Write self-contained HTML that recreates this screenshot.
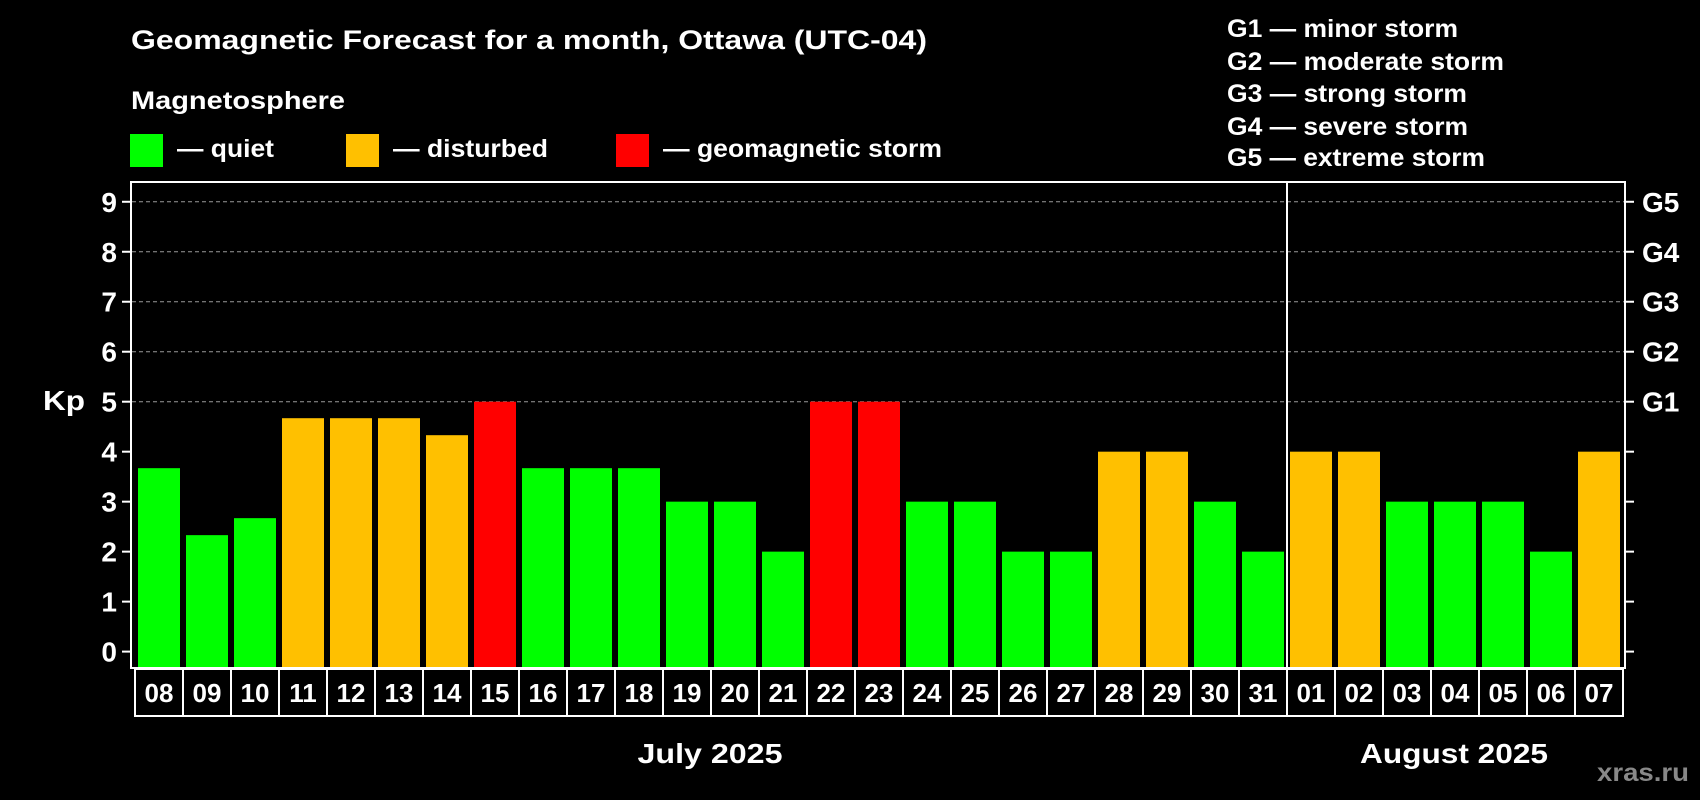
<!DOCTYPE html>
<html><head><meta charset="utf-8"><style>
html,body{margin:0;padding:0;background:#000;width:1700px;height:800px;overflow:hidden}
svg{display:block}
text{font-family:"Liberation Sans",Arial,sans-serif;font-weight:bold;fill:#fff}
</style></head><body>
<svg id="chart" width="1700" height="800" xmlns="http://www.w3.org/2000/svg">
<text x="131" y="49" font-size="27" textLength="796" lengthAdjust="spacingAndGlyphs">Geomagnetic Forecast for a month, Ottawa (UTC-04)</text>
<text x="131" y="109" font-size="25" textLength="214" lengthAdjust="spacingAndGlyphs">Magnetosphere</text>
<rect x="130" y="134" width="33" height="33" fill="#00ff00"/>
<text x="177" y="157" font-size="25" textLength="97" lengthAdjust="spacingAndGlyphs">— quiet</text>
<rect x="346" y="134" width="33" height="33" fill="#ffc000"/>
<text x="393" y="157" font-size="25" textLength="155" lengthAdjust="spacingAndGlyphs">— disturbed</text>
<rect x="616" y="134" width="33" height="33" fill="#ff0000"/>
<text x="663" y="157" font-size="25" textLength="279" lengthAdjust="spacingAndGlyphs">— geomagnetic storm</text>
<g font-size="25">
<text x="1227" y="37" textLength="231" lengthAdjust="spacingAndGlyphs">G1 — minor storm</text>
<text x="1227" y="70" textLength="277" lengthAdjust="spacingAndGlyphs">G2 — moderate storm</text>
<text x="1227" y="102" textLength="240" lengthAdjust="spacingAndGlyphs">G3 — strong storm</text>
<text x="1227" y="135" textLength="241" lengthAdjust="spacingAndGlyphs">G4 — severe storm</text>
<text x="1227" y="166" textLength="258" lengthAdjust="spacingAndGlyphs">G5 — extreme storm</text>
</g>
<text x="43" y="410" font-size="28" textLength="42" lengthAdjust="spacingAndGlyphs">Kp</text>
<g id="grid"></g>
<g id="bars"></g>
<rect x="131" y="182" width="1494" height="486" fill="none" stroke="#fff" stroke-width="2"/>
<g id="axes"></g>
<text x="710" y="763" font-size="28" text-anchor="middle" textLength="145" lengthAdjust="spacingAndGlyphs">July 2025</text>
<text x="1454" y="763" font-size="28" text-anchor="middle" textLength="188" lengthAdjust="spacingAndGlyphs">August 2025</text>
<text x="1689" y="781" font-size="25" text-anchor="end" textLength="92" lengthAdjust="spacingAndGlyphs" style="fill:#888">xras.ru</text>
</svg>
<script>
const days = ["08","09","10","11","12","13","14","15","16","17","18","19","20","21","22","23","24","25","26","27","28","29","30","31","01","02","03","04","05","06","07"];
const kpValues = [3.67,2.33,2.67,4.67,4.67,4.67,4.33,5,3.67,3.67,3.67,3,3,2,5,5,3,3,2,2,4,4,3,2,4,4,3,3,3,2,4];
const yTicks = [0,1,2,3,4,5,6,7,8,9];
const gLabels = ["G1","G2","G3","G4","G5"];
const gLevels = [5,6,7,8,9];
const monthSplitIndex = 24;

const NS = "http://www.w3.org/2000/svg";
const y0 = 651.6, unit = 49.98, x0 = 138, pitch = 48, bw = 42, base = 667;
const yScale = v => y0 - v * unit;
const xScale = i => x0 + i * pitch;
function mk(tag, attrs, parent){const e=document.createElementNS(NS,tag);for(const k in attrs)e.setAttribute(k,attrs[k]);parent.appendChild(e);return e;}
const grid=document.getElementById('grid'), bars=document.getElementById('bars'), axes=document.getElementById('axes');
const color = v => v >= 5 ? "#ff0000" : (v >= 4 ? "#ffc000" : "#00ff00");

yTicks.forEach(t=>{
  const y=yScale(t);
  if(t>=5){const l=mk('line',{x1:132,x2:1624,y1:y,y2:y,stroke:'#999','stroke-width':1,'stroke-dasharray':'4 3'},grid);
  
  }
  const tk=mk('line',{x1:122,x2:131,y1:y,y2:y,stroke:'#fff','stroke-width':2},axes);
  
  
  const rt=mk('line',{x1:1625,x2:1634,y1:y,y2:y,stroke:'#fff','stroke-width':2},axes);
  
  
  const tx=mk('text',{x:117,y:y+10,'font-size':28,'text-anchor':'end'},axes);
  tx.textContent=t;
  
  
});
gLabels.forEach((g,i)=>{
  const tx=mk('text',{x:1642,y:yScale(gLevels[i])+10,'font-size':28},axes);
  tx.textContent=g;
  
  
});
kpValues.forEach((v,i)=>{
  const x=xScale(i), y=yScale(v);
  const r=mk('rect',{x:x,y:y,width:bw,height:base-y,fill:color(v)},bars);
  
  
  const b=mk('rect',{x:x-3,y:669,width:48,height:47,fill:'none',stroke:'#fff','stroke-width':2},axes);
  
  
  const t=mk('text',{x:x+bw/2,y:702,'font-size':26,'text-anchor':'middle'},axes);
  t.textContent=days[i];
  
  
});
const dx=xScale(monthSplitIndex)-3;
const d=mk('line',{x1:dx,x2:dx,y1:182,y2:668,stroke:'#fff','stroke-width':2},axes);


</script>
</body></html>
